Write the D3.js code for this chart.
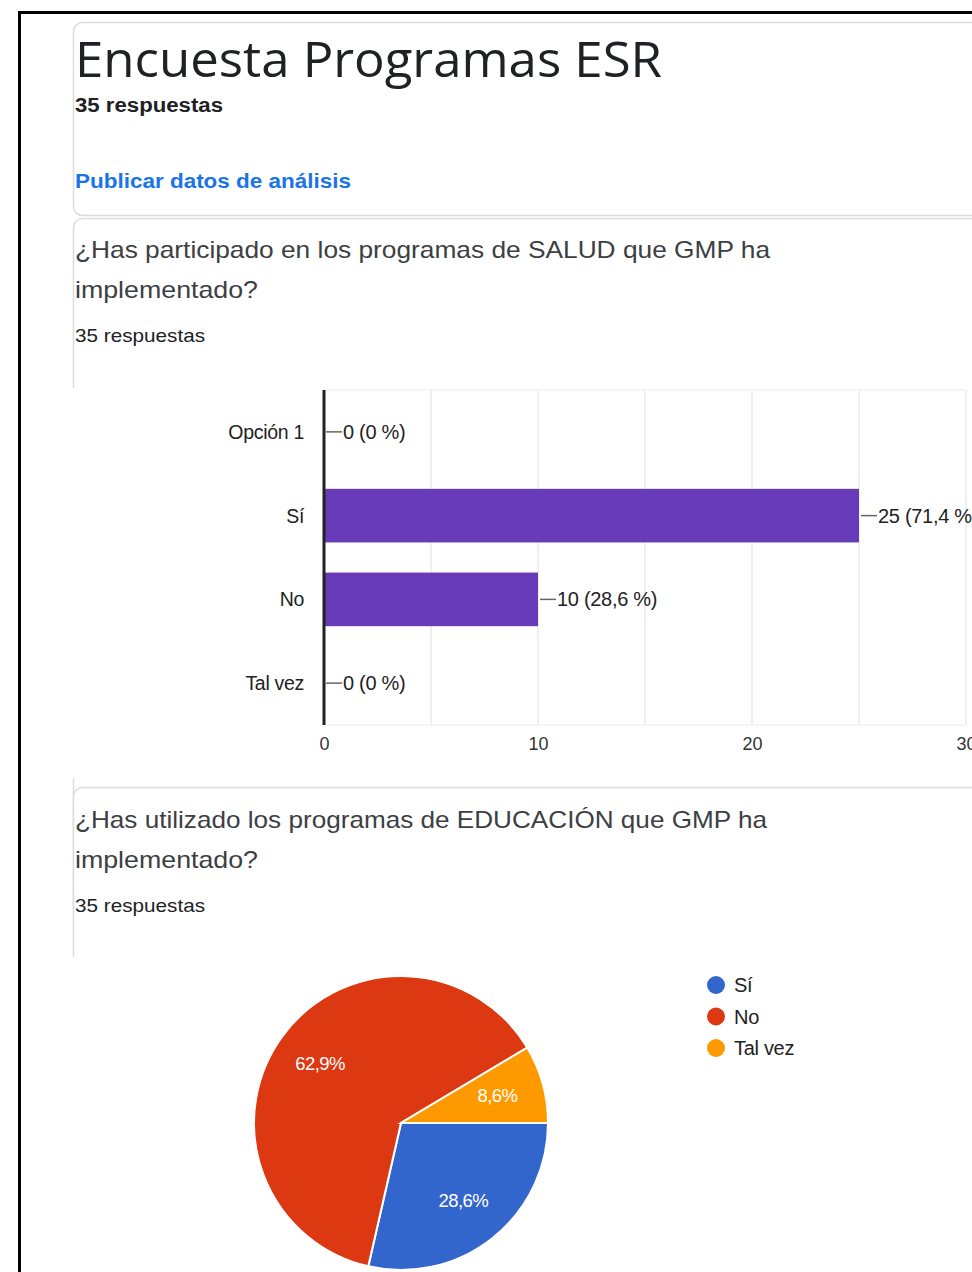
<!DOCTYPE html>
<html>
<head>
<meta charset="utf-8">
<script src="https://cdn.jsdelivr.net/npm/d3@7"></script>
<style>
  body { margin: 0; background: #fff; }
  svg text { font-family: "Liberation Sans", Arial, sans-serif; }
</style>
</head>
<body>
<svg id="page" width="972" height="1272"></svg>
<script>
// survey data
var barCategories = ["Opción 1", "Sí", "No", "Tal vez"]
var barValues = [0, 25, 10, 0]
var barLabels = ["0 (0 %)", "25 (71,4 %)", "10 (28,6 %)", "0 (0 %)"]
var xTicks = [0, 10, 20, 30]
var gridTicks = [0, 5, 10, 15, 20, 25, 30]

var pieCategories = ["Sí", "No", "Tal vez"]
var pieValues = [10, 22, 3]
var pieLabels = ["28,6%", "62,9%", "8,6%"]
var pieColors = ["#3366cc", "#dc3912", "#ff9900"]

var svg = d3.select("#page")

// outer frame of the screenshot
svg.append("rect").attr("x", 19.5).attr("y", 12.5).attr("width", 1000).attr("height", 1300)
    .attr("fill", "none").attr("stroke", "#000").attr("stroke-width", 3)

// cards
function card(y, h) {
    svg.append("rect").attr("x", 73.5).attr("y", y).attr("width", 960).attr("height", h)
        .attr("rx", 9).attr("fill", "#fff").attr("stroke", "#dadce0").attr("stroke-width", 1.5)
}
card(22.5, 193)
card(218.5, 700)
card(787.5, 600)

// white area covering card borders under charts
svg.append("rect").attr("x", 70).attr("y", 388).attr("width", 910).attr("height", 390).attr("fill", "#fff")
svg.append("rect").attr("x", 70).attr("y", 957).attr("width", 910).attr("height", 320).attr("fill", "#fff")

// header texts (textLength keeps the screenshot widths)
function stretched(t, w) {
    return t.attr("textLength", w).attr("lengthAdjust", "spacingAndGlyphs")
}
stretched(svg.append("text").attr("x", 75).attr("y", 77).attr("font-size", 50).attr("fill", "#202124")
    .style("font-family", "'Open Sans', sans-serif").text("Encuesta Programas ESR"), 587)
stretched(svg.append("text").attr("x", 75).attr("y", 112).attr("font-size", 20).attr("font-weight", "bold")
    .attr("fill", "#202124").text("35 respuestas"), 148)
stretched(svg.append("text").attr("x", 75).attr("y", 188).attr("font-size", 21).attr("font-weight", "bold")
    .attr("fill", "#1a73e8").text("Publicar datos de análisis"), 276)

function question(y, lines, widths) {
    lines.forEach(function(l, i) {
        stretched(svg.append("text").attr("x", 75).attr("y", y + i * 40).attr("font-size", 24)
            .attr("fill", "#3c4043").text(l), widths[i])
    })
    stretched(svg.append("text").attr("x", 75).attr("y", y + 84).attr("font-size", 19)
        .attr("fill", "#202124").text("35 respuestas"), 130)
}
question(258, ["¿Has participado en los programas de SALUD que GMP ha", "implementado?"], [695, 183])
question(828, ["¿Has utilizado los programas de EDUCACIÓN que GMP ha", "implementado?"], [692, 183])

// ---- bar chart ----
var x = d3.scaleLinear().domain([0, 30]).range([324, 966])
var y = d3.scaleBand().domain(barCategories).range([390, 725]).paddingInner(0.36).paddingOuter(0.18)

var bar = svg.append("g")
bar.selectAll(".grid").data(gridTicks).enter().append("line")
    .attr("x1", function(d) { return x(d) }).attr("x2", function(d) { return x(d) })
    .attr("y1", 390).attr("y2", 725).attr("stroke", "#ebebeb").attr("stroke-width", 1.5)
bar.append("line").attr("x1", 324).attr("x2", 966).attr("y1", 390).attr("y2", 390).attr("stroke", "#ebebeb")
bar.append("line").attr("x1", 324).attr("x2", 966).attr("y1", 725).attr("y2", 725).attr("stroke", "#ebebeb")

bar.selectAll(".bar").data(barValues).enter().append("rect")
    .attr("x", x(0))
    .attr("y", function(d, i) { return y(barCategories[i]) })
    .attr("width", function(d) { return x(d) - x(0) })
    .attr("height", y.bandwidth())
    .attr("fill", "#673ab7")

// value labels with leader ticks
bar.selectAll(".lead").data(barValues).enter().append("line")
    .attr("x1", function(d) { return x(d) + 2 }).attr("x2", function(d) { return x(d) + 18 })
    .attr("y1", function(d, i) { return y(barCategories[i]) + y.bandwidth() / 2 })
    .attr("y2", function(d, i) { return y(barCategories[i]) + y.bandwidth() / 2 })
    .attr("stroke", "#666").attr("stroke-width", 1.5)
bar.selectAll(".val").data(barValues).enter().append("text")
    .attr("x", function(d) { return x(d) + 19 })
    .attr("y", function(d, i) { return y(barCategories[i]) + y.bandwidth() / 2 + 7 })
    .attr("font-size", 20).attr("fill", "#222").attr("letter-spacing", -0.3)
    .text(function(d, i) { return barLabels[i] })

bar.selectAll(".cat").data(barCategories).enter().append("text")
    .attr("x", 304).attr("y", function(d) { return y(d) + y.bandwidth() / 2 + 7 })
    .attr("text-anchor", "end").attr("font-size", 19.5).attr("fill", "#222").attr("letter-spacing", -0.3)
    .text(function(d) { return d })

var xAxis = d3.axisBottom(x).tickValues(xTicks).tickSize(0).tickPadding(12)
var gx = bar.append("g").attr("transform", "translate(0,725)").call(xAxis)
gx.select(".domain").remove()
gx.selectAll("text").attr("font-size", 18).attr("fill", "#333")
    .style("font-family", "'Liberation Sans', Arial, sans-serif")

bar.append("line").attr("x1", 324).attr("x2", 324).attr("y1", 390).attr("y2", 725)
    .attr("stroke", "#222").attr("stroke-width", 3)

// ---- pie chart ----
var cx = 401, cy = 1123, r = 147
var pie = d3.pie().sort(null).startAngle(Math.PI / 2).endAngle(Math.PI / 2 + 2 * Math.PI)
var arcs = pie(pieValues)
var arc = d3.arc().innerRadius(0).outerRadius(r)
var labelArc = d3.arc().innerRadius(100).outerRadius(100)

var pg = svg.append("g").attr("transform", "translate(" + cx + "," + cy + ")")
pg.selectAll("path").data(arcs).enter().append("path")
    .attr("d", arc).attr("fill", function(d, i) { return pieColors[i] })
    .attr("stroke", "#fff").attr("stroke-width", 2)
pg.selectAll(".pl").data(arcs).enter().append("text")
    .attr("transform", function(d) { var c = labelArc.centroid(d); return "translate(" + c[0] + "," + (c[1] + 6) + ")" })
    .attr("text-anchor", "middle").attr("font-size", 18.5).attr("fill", "#fff").attr("letter-spacing", -0.6)
    .text(function(d, i) { return pieLabels[i] })

// legend
var lg = svg.append("g")
lg.selectAll("circle").data(pieCategories).enter().append("circle")
    .attr("cx", 716).attr("cy", function(d, i) { return 985 + i * 31.5 }).attr("r", 9)
    .attr("fill", function(d, i) { return pieColors[i] })
lg.selectAll("text").data(pieCategories).enter().append("text")
    .attr("x", 734).attr("y", function(d, i) { return 992 + i * 31.5 })
    .attr("font-size", 20).attr("fill", "#222").attr("letter-spacing", -0.3)
    .text(function(d) { return d })
</script>
</body>
</html>
